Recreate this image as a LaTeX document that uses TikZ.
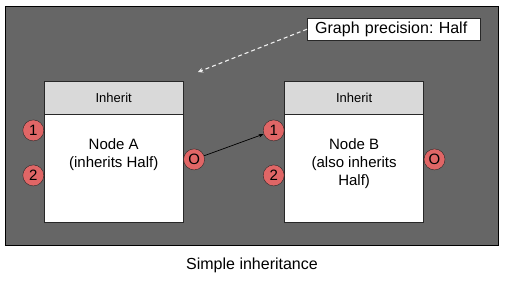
\documentclass[tikz,border=0pt]{standalone}
\usepackage{fontspec}
\setmainfont{Liberation Sans}
\usepackage{tikz}
\usetikzlibrary{arrows.meta,positioning}
\frenchspacing
\definecolor{bggray}{RGB}{102,102,102}
\definecolor{headgray}{RGB}{217,217,217}
\definecolor{portred}{RGB}{224,102,102}
\definecolor{edgedark}{RGB}{40,40,40}
\tikzstyle{arrow}=[-{Stealth[length=5pt]},line width=0.7pt,draw=black]
\tikzstyle{hint}=[-{Stealth[length=5pt,width=5pt]},dash pattern=on 4pt off 3pt,line width=1.1pt,draw=white!88!gray]
\tikzstyle{headbox}=[rectangle,draw=edgedark,fill=headgray,minimum width=139pt,minimum height=33pt,
                  inner sep=0pt,font=\fontsize{13}{15}\selectfont]
\tikzstyle{bodybox}=[rectangle,draw=edgedark,fill=white,minimum width=139pt,minimum height=108pt,inner sep=0pt]
\tikzstyle{bodytext}=[align=center,inner sep=0pt,font=\fontsize{15}{18}\selectfont]
\tikzstyle{port}=[circle,draw=edgedark,fill=portred,minimum size=21pt,inner sep=0pt,font=\fontsize{15}{17}\selectfont]
\tikzstyle{notebox}=[rectangle,draw=edgedark,fill=white,minimum height=22pt,text width=157pt,
                  inner xsep=8pt,inner ysep=0pt,align=left,font=\fontsize{16}{19}\selectfont]

\begin{document}
\begin{tikzpicture}[x=1pt,y=-1pt]
      \useasboundingbox (0,0) rectangle (505,285);
      \node[draw=black,fill=bggray,minimum width=493pt,minimum height=239pt,inner sep=0pt,anchor=north west] (frame) at (5,6) {};

      \node[headbox,anchor=north west] (ahead) at (44,81) {Inherit};
      \node[bodybox,below=0pt of ahead] (abody) {};
      \node[bodytext,anchor=north] (atext) at ([yshift=-24pt]abody.north) {Node A\\(inherits Half)};
      \node[headbox,right=101pt of ahead] (bhead) {Inherit};
      \node[bodybox,below=0pt of bhead] (bbody) {};
      \node[bodytext,anchor=north] (btext) at ([yshift=-24pt]bbody.north) {Node B\\(also inherits\\Half)};

      \node[port,anchor=east] (a1) at ([yshift=-16pt]abody.north west) {1};
      \node[port,anchor=east] (a2) at ([yshift=-61pt]abody.north west) {2};
      \node[port,anchor=west] (ao) at ([yshift=-45pt]abody.north east) {O};
      \node[port,anchor=east] (b1) at ([yshift=-16pt]bbody.north west) {1};
      \node[port,anchor=east] (b2) at ([yshift=-61pt]bbody.north west) {2};
      \node[port,anchor=west] (bo) at ([yshift=-45pt]bbody.north east) {O};

      \node[notebox,anchor=north west] (prec) at (307,18) {Graph precision: Half};
      \coordinate (hinttip) at (198,72);

      \draw[arrow] (ao)--(b1);
      \draw[hint] (prec.west)--(hinttip);

      \node[font=\fontsize{16}{19}\selectfont] (caption) at (252,265) {Simple inheritance};
    \end{tikzpicture}
\end{document}
